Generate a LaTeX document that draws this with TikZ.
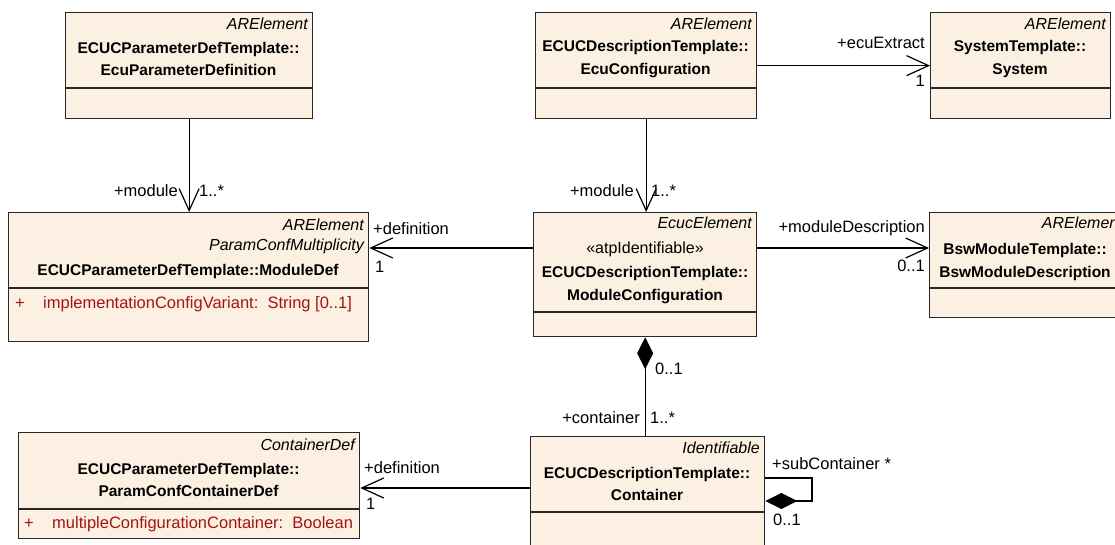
\documentclass[tikz,border=0pt]{standalone}
\usepackage{fontspec}
\setmainfont{Liberation Sans}
\usetikzlibrary{arrows.meta}
\definecolor{boxfill}{RGB}{251,240,226}
\definecolor{attrred}{RGB}{165,20,20}
\definecolor{boxline}{RGB}{40,40,40}
\begin{document}
\begin{tikzpicture}[x=1pt,y=-1pt,
  umlbox/.style={draw=boxline,fill=boxfill,line width=1.3pt,inner sep=0pt,anchor=north west},
  sepline/.style={draw=boxline,line width=1.3pt},
  stereo/.style={font=\fontsize{16}{19}\selectfont\itshape,inner sep=0pt,anchor=east,text height=11pt,text depth=3pt},
  stereoup/.style={font=\fontsize{16}{19}\selectfont,inner sep=0pt,text height=11pt,text depth=3pt},
  cname/.style={font=\fontsize{15.5}{22.5}\selectfont\bfseries,inner sep=0pt,align=center},
  lbl/.style={font=\fontsize{16.5}{19}\selectfont,inner sep=0pt,text height=11pt,text depth=3pt},
  attr/.style={font=\fontsize{16.5}{19}\selectfont,text=attrred,inner sep=0pt,anchor=west,text height=11pt,text depth=3pt},
  conn/.style={draw=black,line width=1.2pt},
  navi/.style={conn,-{Straight Barb[length=22pt,width=20pt]}},
  compo/.style={conn,{Diamond[length=32pt,width=16pt]}-}
]
\useasboundingbox (0,0) rectangle (1115,545);

% ---------- boxes ----------
\node[umlbox,minimum width=247pt,minimum height=106pt] (epd) at (65,12) {};
\node[umlbox,minimum width=221pt,minimum height=106pt] (ecfg) at (535,12) {};
\node[umlbox,minimum width=180pt,minimum height=106pt] (sys) at (930,12) {};
\node[umlbox,minimum width=360pt,minimum height=129pt] (md) at (8,212) {};
\node[umlbox,minimum width=223pt,minimum height=124pt] (mc) at (533,212) {};
\node[umlbox,minimum width=200pt,minimum height=105pt] (bsw) at (929,212) {};
\node[umlbox,minimum width=341pt,minimum height=106pt] (pccd) at (18,432) {};
\node[umlbox,minimum width=234pt,minimum height=130pt] (cont) at (530,436) {};

% ---------- separators ----------
\coordinate (s88) at (0,88);
\coordinate (s288) at (0,288);
\coordinate (s312) at (0,312);
\coordinate (s509) at (0,509);
\coordinate (s512) at (0,512);
\draw[sepline] (epd.west |- s88) -- (epd.east |- s88);
\draw[sepline] (ecfg.west |- s88) -- (ecfg.east |- s88);
\draw[sepline] (sys.west |- s88) -- (sys.east |- s88);
\draw[sepline] (md.west |- s288) -- (md.east |- s288);
\draw[sepline] (mc.west |- s312) -- (mc.east |- s312);
\draw[sepline] (bsw.west |- s288) -- (bsw.east |- s288);
\draw[sepline] (pccd.west |- s509) -- (pccd.east |- s509);
\draw[sepline] (cont.west |- s512) -- (cont.east |- s512);

% ---------- box texts ----------
\node[stereo] (epdS) at (308,26) {ARElement};
\node[cname] (epdN) at (188.5,59) {ECUCParameterDefTemplate::\\EcuParameterDefinition};

\node[stereo] (ecfgS) at (752,26) {ARElement};
\node[cname] (ecfgN) at (645.5,59) {ECUCDescriptionTemplate::\\EcuConfiguration};

\node[stereo] (sysS) at (1106,26) {ARElement};
\node[cname] (sysN) at (1020,59) {SystemTemplate::\\System};

\node[stereo] (mdS1) at (364,226) {ARElement};
\node[stereo] (mdS2) at (364,247) {ParamConfMultiplicity};
\node[cname] (mdN) at (188,271) {ECUCParameterDefTemplate::ModuleDef};
\node[attr] (mdAp) at (15,304) {+};
\node[attr] (mdA) at (43,304) {implementationConfigVariant:\ \ String [0..1]};

\node[stereo] (mcS) at (752,225) {EcucElement};
\node[stereoup] (mcU) at (645,250) {«atpIdentifiable»};
\node[cname] (mcN) at (645,285) {ECUCDescriptionTemplate::\\ModuleConfiguration};

\node[stereo] (bswS) at (1123,225) {ARElement};
\node[cname] (bswN) at (1025,262) {BswModuleTemplate::\\BswModuleDescription};

\node[stereo] (pccdS) at (355,446) {ContainerDef};
\node[cname] (pccdN) at (188.5,480) {ECUCParameterDefTemplate::\\ParamConfContainerDef};
\node[attr] (pccdAp) at (24,524) {+};
\node[attr] (pccdA) at (52,524) {multipleConfigurationContainer:\ \ Boolean};

\node[stereo] (contS) at (760,449) {Identifiable};
\node[cname] (contN) at (647,484) {ECUCDescriptionTemplate::\\Container};

% ---------- connectors ----------
\coordinate (y248) at (0,248);
\coordinate (y488) at (0,488);
\coordinate (loopA) at (812,478);
\coordinate (loopB) at (812,501);

\draw[navi] (epd.south) -- (epd.south |- md.north);
\draw[navi] (ecfg.south) -- (ecfg.south |- mc.north);
\draw[navi] (ecfg.east) -- (sys.west |- ecfg.east);
\draw[navi] (mc.west |- y248) -- (md.east |- y248);
\draw[navi] (mc.east |- y248) -- (bsw.west |- y248);
\draw[navi] (cont.west |- y488) -- (pccd.east |- y488);
\draw[compo] (mc.south) -- (mc.south |- cont.north);
\draw[compo] (cont.east |- loopB) -- (loopB) -- (loopA) -- (cont.east |- loopA);

% ---------- connector labels ----------
\node[lbl,anchor=east] (l1a) at (178,193) {+module};
\node[lbl,anchor=west] (l1b) at (199,193) {1..*};
\node[lbl,anchor=east] (l2a) at (634,193) {+module};
\node[lbl,anchor=west] (l2b) at (651,193) {1..*};
\node[lbl,anchor=east] (l3a) at (925,45) {+ecuExtract};
\node[lbl,anchor=east] (l3b) at (925,83) {1};
\node[lbl,anchor=west] (l4a) at (373,231) {+definition};
\node[lbl,anchor=west] (l4b) at (375,268) {1};
\node[lbl,anchor=east] (l5a) at (925,229) {+moduleDescription};
\node[lbl,anchor=east] (l5b) at (925,267) {0..1};
\node[lbl,anchor=west] (l6a) at (364,469) {+definition};
\node[lbl,anchor=west] (l6b) at (366,505) {1};
\node[lbl,anchor=west] (l7a) at (655,370) {0..1};
\node[lbl,anchor=east] (l7b) at (640,419) {+container};
\node[lbl,anchor=west] (l7c) at (650,419) {1..*};
\node[lbl,anchor=west] (l8a) at (772,465) {+subContainer *};
\node[lbl,anchor=west] (l8b) at (773,521) {0..1};
\end{tikzpicture}
\end{document}
